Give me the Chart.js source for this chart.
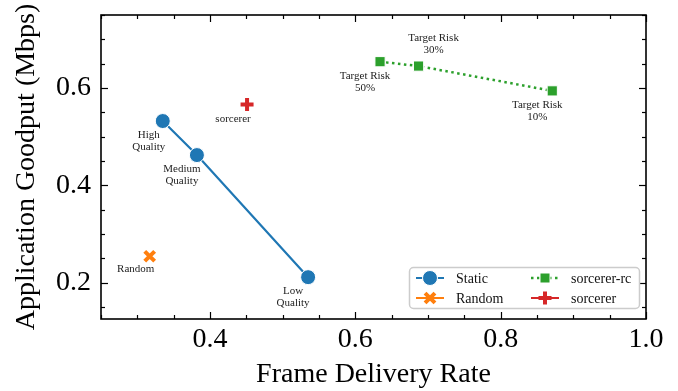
<!DOCTYPE html>
<html><head><meta charset="utf-8">
<script src="https://cdn.jsdelivr.net/npm/chart.js@4.4.0/dist/chart.umd.min.js"></script>
<style>html,body{margin:0;padding:0;background:#fff;}#wrap{width:678px;height:391px;position:relative;}</style>
</head><body><div id="wrap"><canvas id="c" width="678" height="391"></canvas></div>
<script>
// ---- data ----
const seriesNames = ['Static', 'Random', 'sorcerer-rc', 'sorcerer'];
const staticX = [0.335, 0.382, 0.535];
const staticY = [0.532, 0.462, 0.211];
const staticLabels = ['High\nQuality', 'Medium\nQuality', 'Low\nQuality'];
const randomX = [0.317];
const randomY = [0.254];
const randomLabels = ['Random'];
const rcX = [0.634, 0.687, 0.871];
const rcY = [0.654, 0.645, 0.594];
const rcLabels = ['Target Risk\n50%', 'Target Risk\n30%', 'Target Risk\n10%'];
const sorcX = [0.451];
const sorcY = [0.566];
const sorcLabels = ['sorcerer'];
const xTicks = [0.4, 0.6, 0.8, 1.0];
const xTickLabels = ['0.4', '0.6', '0.8', '1.0'];
const yTicks = [0.2, 0.4, 0.6];
const yTickLabels = ['0.2', '0.4', '0.6'];
const xTitle = 'Frame Delivery Rate';
const yTitle = 'Application Goodput (Mbps)';

// ---- styling ----
const FONT = '"Liberation Serif", "Times New Roman", serif';
const colors = ['#1f77b4', '#ff7f0e', '#2ca02c', '#d62728'];
const pts = (xs, ys) => xs.map((x, i) => ({x: x, y: ys[i]}));
const labelSets = [staticLabels, randomLabels, rcLabels, sorcLabels];
// pixel offsets of each label (center x, center of first line)
const labelOffsets = [
  [[-14, 14], [-15, 14], [-15, 14]],
  [[-14, 13]],
  [[-15, 14], [15, -28], [-15, 14]],
  [[-14, 15]]
];

const datasets = [
  {label: seriesNames[0], data: pts(staticX, staticY), showLine: true, borderColor: colors[0], borderWidth: 2.2,
   pointStyle: 'circle', pointRadius: 7.5, pointHoverRadius: 7.5, pointBackgroundColor: colors[0], pointBorderColor: '#fff', pointBorderWidth: 1},
  {label: seriesNames[1], data: pts(randomX, randomY), showLine: false, borderColor: colors[1],
   pointStyle: 'crossRot', pointRadius: 7, pointHoverRadius: 7, pointBackgroundColor: colors[1], pointBorderColor: colors[1], pointBorderWidth: 4},
  {label: seriesNames[2], data: pts(rcX, rcY), showLine: true, borderColor: colors[2], borderWidth: 2.5, borderDash: [2.5, 3.5],
   pointStyle: 'rect', pointRadius: 7.2, pointHoverRadius: 7.2, pointBackgroundColor: colors[2], pointBorderColor: '#fff', pointBorderWidth: 1},
  {label: seriesNames[3], data: pts(sorcX, sorcY), showLine: false, borderColor: colors[3],
   pointStyle: 'cross', pointRadius: 6.5, pointHoverRadius: 6.5, pointBackgroundColor: colors[3], pointBorderColor: colors[3], pointBorderWidth: 4}
];

function drawMarker(ctx, kind, x, y, color) {
  ctx.save();
  if (kind === 'circle') {
    ctx.beginPath(); ctx.arc(x, y, 7.5, 0, Math.PI * 2); ctx.fillStyle = color; ctx.fill();
    ctx.strokeStyle = '#fff'; ctx.lineWidth = 1; ctx.stroke();
  } else if (kind === 'rect') {
    ctx.fillStyle = color; ctx.fillRect(x - 5, y - 5, 10, 10);
    ctx.strokeStyle = '#fff'; ctx.lineWidth = 1; ctx.strokeRect(x - 5, y - 5, 10, 10);
  } else if (kind === 'crossRot') {
    const h = 4.95; ctx.strokeStyle = color; ctx.lineWidth = 4; ctx.beginPath();
    ctx.moveTo(x - h, y - h); ctx.lineTo(x + h, y + h); ctx.moveTo(x - h, y + h); ctx.lineTo(x + h, y - h); ctx.stroke();
  } else if (kind === 'cross') {
    const h = 6.5; ctx.strokeStyle = color; ctx.lineWidth = 4; ctx.beginPath();
    ctx.moveTo(x - h, y); ctx.lineTo(x + h, y); ctx.moveTo(x, y - h); ctx.lineTo(x, y + h); ctx.stroke();
  }
  ctx.restore();
}

const decor = {
  id: 'decor',
  afterDatasetsDraw(chart) {
    const ctx = chart.ctx, xs = chart.scales.x, ys = chart.scales.y, a = chart.chartArea;
    // annotations
    ctx.save();
    ctx.font = '11px ' + FONT; ctx.fillStyle = '#222'; ctx.textAlign = 'center'; ctx.textBaseline = 'middle';
    chart.data.datasets.forEach((ds, di) => {
      ds.data.forEach((p, pi) => {
        const px = xs.getPixelForValue(p.x), py = ys.getPixelForValue(p.y);
        const off = labelOffsets[di][pi];
        labelSets[di][pi].split('\n').forEach((ln, li) => ctx.fillText(ln, px + off[0], py + off[1] + li * 12));
      });
    });
    ctx.restore();
    // frame + ticks
    ctx.save();
    ctx.strokeStyle = '#000'; ctx.lineWidth = 1.2;
    const tick = (x1, y1, x2, y2) => { ctx.beginPath(); ctx.moveTo(x1, y1); ctx.lineTo(x2, y2); ctx.stroke(); };
    for (let v = 0.25; v <= 1.0001; v += 0.05) {
      const px = Math.round(xs.getPixelForValue(v)) + 0.5;
      const major = xTicks.some(t => Math.abs(t - v) < 1e-6);
      const L = major ? 7 : 4;
      tick(px, a.bottom, px, a.bottom - L); tick(px, a.top, px, a.top + L);
    }
    for (let v = 0.15; v <= 0.7501; v += 0.05) {
      const py = Math.round(ys.getPixelForValue(v)) + 0.5;
      const major = yTicks.some(t => Math.abs(t - v) < 1e-6);
      const L = major ? 7 : 4;
      tick(a.left, py, a.left + L, py); tick(a.right, py, a.right - L, py);
    }
    ctx.lineWidth = 1.6;
    ctx.strokeRect(a.left, a.top, a.right - a.left, a.bottom - a.top);
    ctx.restore();
    // legend
    ctx.save();
    ctx.beginPath();
    ctx.roundRect(409.5, 267.5, 230, 41, 4);
    ctx.fillStyle = 'rgba(255,255,255,0.85)'; ctx.fill();
    ctx.strokeStyle = '#cccccc'; ctx.lineWidth = 1.5; ctx.stroke();
    const slots = [[430, 278], [430, 298], [545, 278], [545, 298]];
    ctx.font = '14px ' + FONT; ctx.textBaseline = 'middle'; ctx.textAlign = 'left';
    chart.data.datasets.forEach((ds, di) => {
      const [mx, my] = slots[di];
      ctx.save();
      ctx.strokeStyle = colors[di]; ctx.lineWidth = di === 2 ? 2.5 : 2;
      if (di === 2) ctx.setLineDash([2.5, 3.5]);
      ctx.beginPath(); ctx.moveTo(mx - 14, my); ctx.lineTo(mx + 14, my); ctx.stroke();
      ctx.restore();
      drawMarker(ctx, ds.pointStyle, mx, my, colors[di]);
      ctx.fillStyle = '#111';
      ctx.fillText(ds.label, mx + 26, my + 1);
    });
    ctx.restore();
  }
};

new Chart(document.getElementById('c'), {
  type: 'scatter',
  data: {datasets: datasets},
  options: {
    responsive: false, animation: false,
    layout: {padding: {top: 15, right: 32, left: 0, bottom: 0}},
    plugins: {legend: {display: false}, tooltip: {enabled: false}},
    scales: {
      x: {
        type: 'linear', min: 0.25, max: 1.0,
        afterFit: s => { s.height = 72; s.paddingLeft = 0; s.paddingRight = 0; s.paddingTop = 0; s.paddingBottom = 0; },
        afterBuildTicks: s => { s.ticks = xTicks.map(v => ({value: v})); },
        grid: {display: false, drawTicks: false},
        border: {display: false},
        ticks: {padding: 4, color: '#000', font: {family: FONT, size: 28},
                callback: (v) => xTickLabels[xTicks.findIndex(t => Math.abs(t - v) < 1e-6)]},
        title: {display: true, text: xTitle, color: '#000', font: {family: FONT, size: 28}, padding: {top: 0, bottom: 0}}
      },
      y: {
        type: 'linear', min: 0.125, max: 0.75,
        afterFit: s => { s.width = 101; s.paddingLeft = 0; s.paddingRight = 0; s.paddingTop = 0; s.paddingBottom = 0; },
        afterBuildTicks: s => { s.ticks = yTicks.map(v => ({value: v})); },
        grid: {display: false, drawTicks: false},
        border: {display: false},
        ticks: {padding: 10, color: '#000', font: {family: FONT, size: 28},
                callback: (v) => yTickLabels[yTicks.findIndex(t => Math.abs(t - v) < 1e-6)]},
        title: {display: true, text: yTitle, color: '#000', font: {family: FONT, size: 28}, padding: {top: 10, bottom: 0}}
      }
    }
  },
  plugins: [decor]
});
</script></body></html>
